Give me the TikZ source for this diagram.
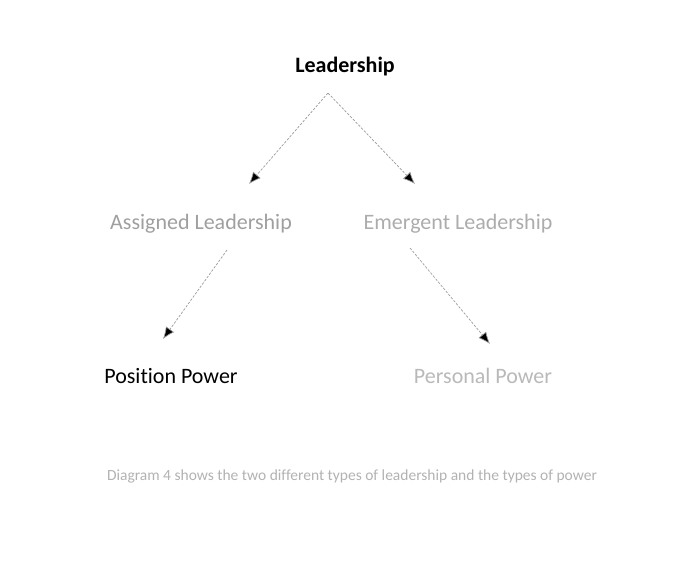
\documentclass[tikz,border=0pt]{standalone}
\usepackage{fontspec}
\setmainfont[Ligatures=NoCommon]{Carlito}
\usetikzlibrary{arrows.meta,positioning}

\begin{document}
\begin{tikzpicture}[x=1pt,y=-1pt,
    level/.style={font=\fontsize{22}{26}\selectfont, inner sep=0pt},
    link/.style={draw=gray!80, line width=0.7pt, dash pattern=on 2.5pt off 1.5pt,
        -{Latex[length=12pt,width=10pt,fill=black]}}]
                % page size, same proportions as the scan
                \useasboundingbox (0,0) rectangle (694,571);

                % the three levels
                \node[level,font=\bfseries\fontsize{22}{26}\selectfont] (lead) at (345,67) {Leadership};
                \node[level,text=gray!75] (assigned) at (201,224) {Assigned Leadership};
                \node[level,text=gray!65] (emergent) at (458,224) {Emergent Leadership};
                \node[level] (position) at (171,376) {Position Power};
                \node[level,text=gray!55] (personal) at (483,376) {Personal Power};

                % caption under the tree
                \node[text=gray!60,font=\fontsize{15.5}{18}\selectfont] (caption) at (352,476)
                    {Diagram 4 shows the two different types of leadership and the types of power};

                % ends of the arrows
                \coordinate (top) at (328,93);
                \coordinate (assignedin) at (249,184);
                \coordinate (emergentin) at (415,184);
                \coordinate (assignedout) at (227,250);
                \coordinate (emergentout) at (410,248);
                \coordinate (positionin) at (163,339);
                \coordinate (personalin) at (490,344);

                \draw[link] (top) -- (assignedin);
                \draw[link] (top) -- (emergentin);
                \draw[link] (assignedout) -- (positionin);
                \draw[link] (emergentout) -- (personalin);
\end{tikzpicture}
\end{document}
